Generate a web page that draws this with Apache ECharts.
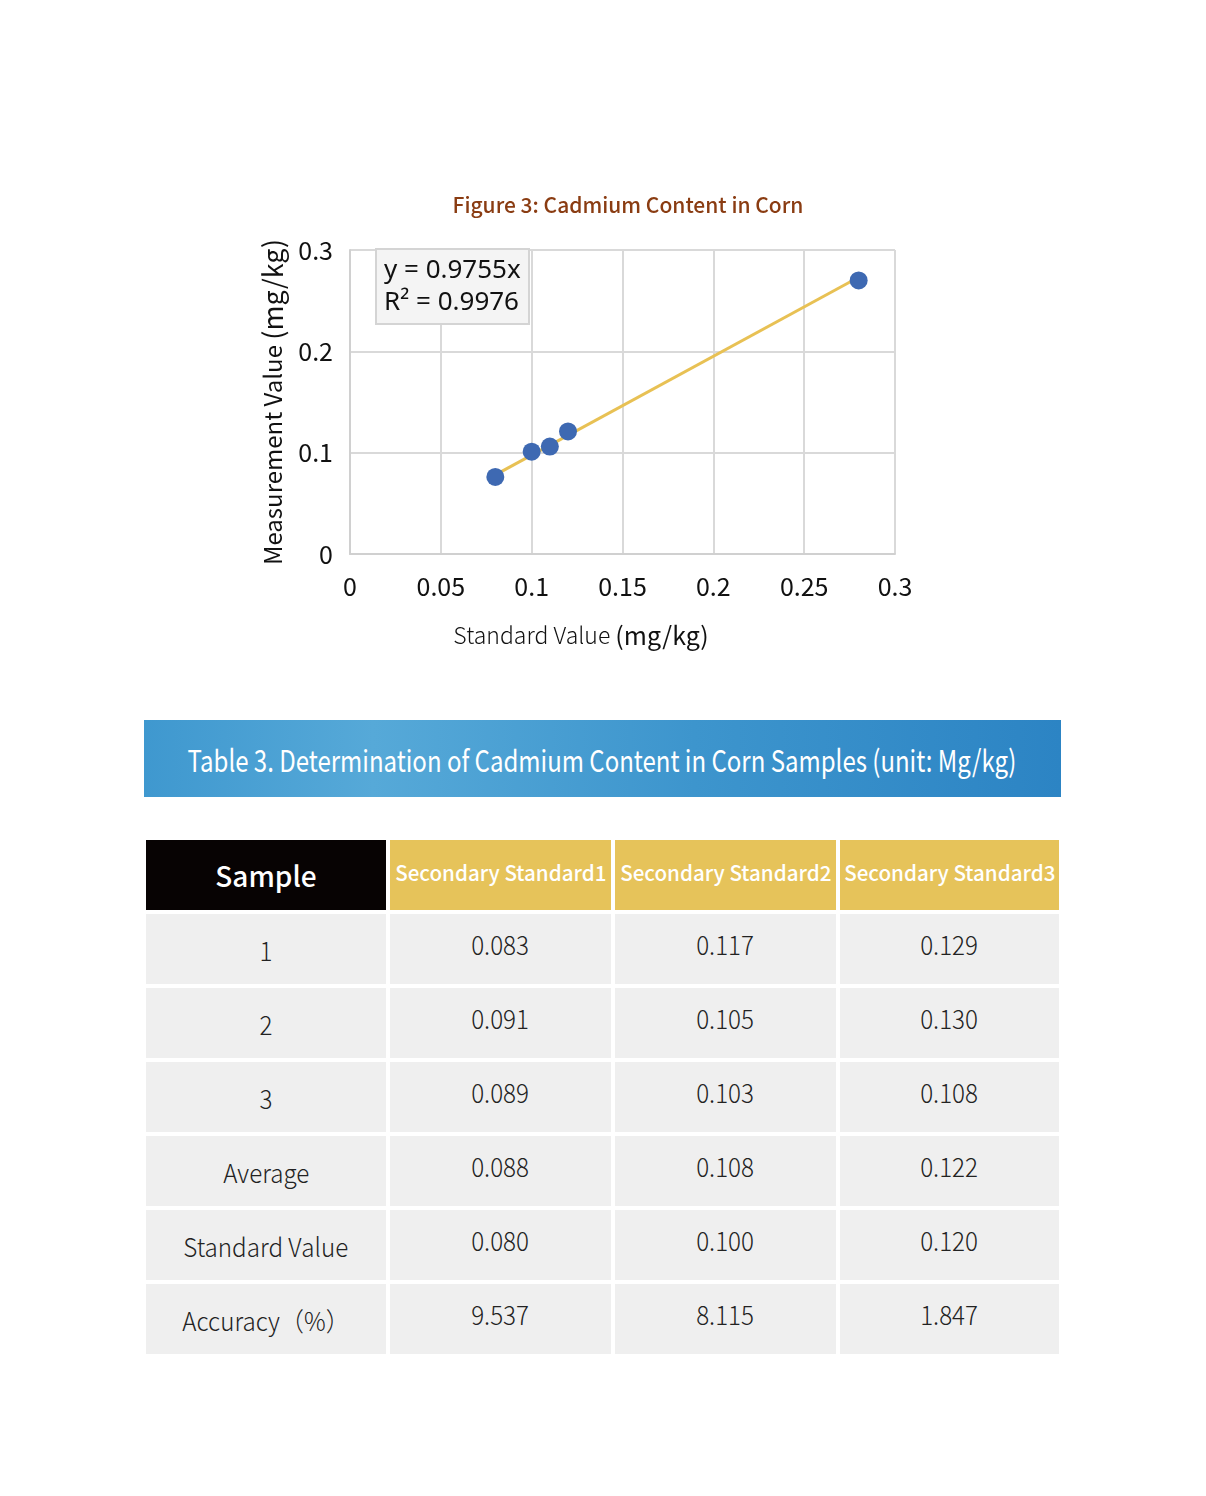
<!DOCTYPE html>
<html>
<head>
<meta charset="utf-8">
<script src="https://cdn.jsdelivr.net/npm/echarts@6/dist/echarts.min.js"></script>
<style>
  html, body { margin: 0; padding: 0; background: #fff; width: 1206px; height: 1496px; overflow: hidden; }
  #chart { position: absolute; left: 0; top: 0; width: 1206px; height: 700px; }
  .banner { position: absolute; left: 144px; top: 720px; width: 917px; height: 77px;
    background: linear-gradient(90deg, #3f98cf 0%, #56a9d8 25%, #3d95cd 60%, #2c84c4 100%);
    color: #fff; font-family: "Noto Sans CJK SC", "Noto Sans", sans-serif; font-size: 30px; font-weight: 400;
    display: flex; align-items: center; justify-content: center; }
  .banner span { display: inline-block; transform: scaleX(0.8); white-space: nowrap; }
  .cell { position: absolute; height: 70px; background: #efefef; color: #222;
    font-family: "Noto Sans CJK SC", "Noto Sans", sans-serif; font-weight: 300; font-size: 26px;
    display: flex; justify-content: center; box-sizing: border-box; }
  .cell span { display: inline-block; transform: scaleX(0.93); white-space: nowrap; }
  .hdr0 { background: #070303; color: #fff; font-weight: 500; font-size: 28px; align-items: center; }
  .hdr0 span { transform: scaleX(1.0); }
  .hdr { background: #e6c35a; color: #fff; font-weight: 500; font-size: 21px; align-items: center; padding-bottom: 6px; }
  .hdr span { transform: scaleX(0.98); }
  .lab { align-items: center; padding-top: 0px; }
  .val { align-items: center; padding-bottom: 12px; }
</style>
</head>
<body>
<div id="chart"></div>
<div class="banner"><span id="bannerText"></span></div>
<div id="table"></div>
<script>
// ---------- chart data ----------
var chartTitle = 'Figure 3: Cadmium Content in Corn';
var xAxisName = ['Standard Value ', '(mg/kg)'];
var yAxisName = ['Measurement Value ', '(mg/kg)'];
var standardValues = [0.08, 0.10, 0.11, 0.12, 0.28];
var measuredValues = [0.076, 0.101, 0.106, 0.121, 0.270];
var trendSlope = 0.9755;
var trendR2 = 0.9976;
var trendRange = [0.08, 0.28];
var xTicks = [0, 0.05, 0.1, 0.15, 0.2, 0.25, 0.3];
var yTicks = [0, 0.1, 0.2, 0.3];

// ---------- table data ----------
var tableTitle = 'Table 3. Determination of Cadmium Content in Corn Samples (unit: Mg/kg)';
var tableHeader = ['Sample', 'Secondary Standard1', 'Secondary Standard2', 'Secondary Standard3'];
var rowLabels = ['1', '2', '3', 'Average', 'Standard Value', 'Accuracy\uFF08%\uFF09'];
var standard1 = ['0.083', '0.091', '0.089', '0.088', '0.080', '9.537'];
var standard2 = ['0.117', '0.105', '0.103', '0.108', '0.100', '8.115'];
var standard3 = ['0.129', '0.130', '0.108', '0.122', '0.120', '1.847'];

// ---------- chart ----------
var chart = echarts.init(document.getElementById('chart'));
var pts = standardValues.map(function (x, i) { return [x, measuredValues[i]]; });
var trend = trendRange.map(function (x) { return [x, trendSlope * x]; });
var tickFont = { fontFamily: 'Noto Sans CJK SC', fontSize: 25, color: '#111' };
function tickFmt(list) {
  return function (v) {
    var s = list.find(function (t) { return Math.abs(t - v) < 1e-9; });
    return s === undefined ? '' : String(s);
  };
}

chart.setOption({
  animation: false,
  title: {
    text: chartTitle, left: 623, top: 190, textAlign: 'center',
    textStyle: { color: '#8a3c12', fontSize: 21, fontWeight: 500, fontFamily: 'Noto Sans CJK SC' }
  },
  grid: { left: 350, top: 250, width: 545, height: 304 },
  xAxis: {
    type: 'value', min: 0, max: 0.3, interval: 0.05,
    axisLine: { show: true, lineStyle: { color: '#d0d0d0', width: 2 } },
    axisTick: { show: false },
    splitLine: { show: true, lineStyle: { color: '#d9d9d9', width: 2 } },
    axisLabel: Object.assign({ margin: 20, formatter: tickFmt(xTicks) }, tickFont)
  },
  yAxis: {
    type: 'value', min: 0, max: 0.3, interval: 0.1,
    name: '{a|' + yAxisName[0] + '}{b|' + yAxisName[1] + '}',
    nameLocation: 'middle', nameRotate: 90, nameGap: 64,
    nameTextStyle: { rich: {
      a: { fontFamily: 'Noto Sans CJK SC', fontSize: 24, fontWeight: 400, color: '#111' },
      b: { fontFamily: 'Noto Sans CJK SC', fontSize: 27, fontWeight: 400, color: '#111' }
    } },
    axisLine: { show: true, lineStyle: { color: '#d0d0d0', width: 2 } },
    axisTick: { show: false },
    splitLine: { show: true, lineStyle: { color: '#d9d9d9', width: 2 } },
    axisLabel: Object.assign({ margin: 17, formatter: tickFmt(yTicks) }, tickFont)
  },
  graphic: [
    { type: 'text', x: 581, y: 635, style: {
        text: '{a|' + xAxisName[0] + '}{b|' + xAxisName[1] + '}', x: 0, y: 0, align: 'center', verticalAlign: 'middle',
        rich: {
          a: { fontFamily: 'Noto Sans CJK SC', fontSize: 23, fontWeight: 300, fill: '#111', color: '#111' },
          b: { fontFamily: 'Noto Sans CJK SC', fontSize: 25, fontWeight: 400, fill: '#111', color: '#111' }
        } } },
    { type: 'rect', shape: { x: 376, y: 249, width: 153, height: 75 },
      style: { fill: '#f4f4f4', stroke: '#d4d4d4', lineWidth: 2 }, z: 10 },
    { type: 'text', x: 384, y: 271, z: 11, style: {
        text: 'y = ' + trendSlope + 'x', verticalAlign: 'middle',
        font: '26px "Noto Sans"', fill: '#111' } },
    { type: 'text', x: 384, y: 303, z: 11, style: {
        text: 'R\u00B2 = ' + trendR2, verticalAlign: 'middle',
        font: '26px "Noto Sans"', fill: '#111' } }
  ],
  series: [
    { type: 'line', data: trend, symbol: 'none', lineStyle: { color: '#e8c154', width: 3 }, z: 2, silent: true },
    { type: 'scatter', data: pts, symbolSize: 18, itemStyle: { color: '#3e69b2', opacity: 1 }, z: 3 }
  ]
});

// ---------- table ----------
document.getElementById('bannerText').textContent = tableTitle;
var colLeft = [146, 390, 615, 840];
var colWidth = [240, 221, 221, 219];
var rowTop0 = 840, rowStep = 74;
var html = '';
function cell(cls, c, r, text) {
  return '<div class="cell ' + cls + '" style="left:' + colLeft[c] + 'px;top:' + (rowTop0 + r * rowStep) +
    'px;width:' + colWidth[c] + 'px"><span>' + text + '</span></div>';
}
tableHeader.forEach(function (h, c) { html += cell(c === 0 ? 'hdr0' : 'hdr', c, 0, h); });
var cols = [standard1, standard2, standard3];
rowLabels.forEach(function (lab, r) {
  html += cell('lab', 0, r + 1, lab);
  cols.forEach(function (col, c) { html += cell('val', c + 1, r + 1, col[r]); });
});
document.getElementById('table').innerHTML = html;
</script>
</body>
</html>
